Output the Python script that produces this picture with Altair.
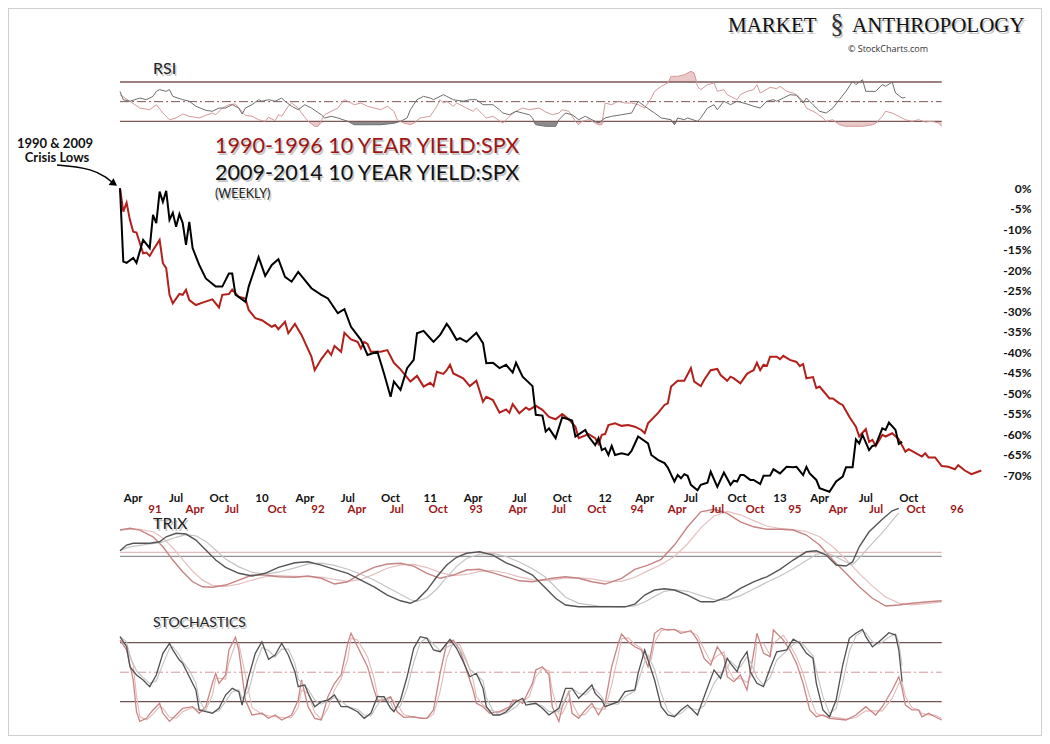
import altair as alt
import pandas as pd

# ---------------- data (week index, value) ----------------
# Main panel: % change of 10 Year Yield : SPX ratio from crisis low
BLACK_MAIN = [(0,0.0),(1,-17.9),(2,-18.2),(4,-17.0),(5,-18.2),(7,-12.6),(9,-14.6),(10,-6.5),(11,-8.5),(12,-0.8),(13,-3.3),(14,-0.6),(15,-7.7),(16,-6.0),(17,-9.4),(18,-6.3),(19,-8.5),(20,-13.8),(21,-8.2),(22,-14.6),(24,-18.7),(26,-22.0),(29,-24.0),(31,-24.0),(33,-20.8),(34,-20.8),(35,-26.0),(38,-27.7),(39,-24.0),(40,-21.6),(42,-16.8),(44,-21.4),(46,-18.7),(48,-17.3),(50,-21.6),(52,-22.8),(54,-20.4),(58,-24.4),(61,-26.0),(63,-26.9),(66,-30.5),(68,-29.5),(70,-33.8),(73,-37.0),(75,-40.7),(78,-39.9),(80,-45.2),(82,-50.9),(83,-47.2),(85,-49.2),(87,-43.9),(89,-41.9),(90,-35.4),(92,-34.8),(94,-36.6),(95,-37.5),(97,-35.8),(99,-33.1),(100,-34.2),(102,-37.0),(103,-36.6),(105,-37.5),(108,-35.3),(110,-37.8),(111,-42.7),(113,-42.6),(115,-43.9),(117,-43.1),(119,-45.0),(120,-42.6),(122,-46.0),(125,-48.3),(126,-55.3),(128,-55.5),(129,-59.4),(130,-58.6),(132,-61.0),(134,-55.9),(137,-56.7),(138,-60.6),(141,-59.0),(142,-60.6),(144,-62.7),(145,-61.0),(146,-63.9),(147,-63.5),(148,-65.1),(149,-62.9),(150,-65.1),(152,-64.7),(154,-65.1),(155,-64.1),(157,-60.6),(160,-62.3),(161,-65.1),(163,-66.3),(165,-67.1),(166,-68.2),(168,-71.6),(169,-70.0),(170,-70.8),(171,-69.8),(172,-70.2),(173,-72.4),(175,-73.7),(176,-72.4),(178,-71.9),(179,-69.2),(181,-72.9),(183,-69.4),(185,-72.4),(186,-71.4),(187,-71.6),(188,-70.0),(189,-70.0),(191,-71.2),(192,-71.2),(194,-72.2),(195,-70.2),(197,-70.1),(198,-68.6),(200,-69.6),(202,-68.0),(204,-68.1),(205,-68.0),(207,-70.0),(208,-68.0),(209,-69.6),(211,-71.2),(212,-73.2),(215,-74.1),(217,-71.6),(219,-70.4),(220,-68.1),(222,-68.1),(223,-61.3),(224,-62.3),(225,-60.2),(227,-63.9),(228,-62.9),(229,-62.7),(231,-58.6),(232,-59.0),(233,-57.2),(235,-59.0),(236,-62.4),(237,-61.9)]

RED_MAIN = [(0,0.0),(1,-5.7),(2,-3.5),(3,-7.7),(4,-10.6),(5,-10.8),(7,-15.9),(8,-15.7),(9,-16.5),(10,-15.1),(12,-12.6),(13,-18.3),(14,-19.5),(15,-26.0),(16,-28.1),(18,-25.8),(19,-26.0),(20,-24.8),(21,-27.3),(23,-28.5),(25,-27.9),(28,-27.1),(30,-29.1),(31,-26.0),(33,-25.8),(34,-24.7),(36,-26.5),(38,-26.9),(39,-29.7),(41,-31.7),(43,-32.2),(46,-33.8),(47,-33.4),(48,-34.4),(50,-32.6),(51,-35.4),(53,-33.1),(55,-35.8),(58,-41.1),(59,-44.4),(61,-41.7),(63,-39.6),(64,-40.7),(65,-38.5),(67,-39.9),(68,-35.3),(70,-36.9),(72,-37.5),(73,-39.1),(74,-37.5),(75,-38.0),(76,-39.9),(79,-39.9),(81,-39.5),(83,-42.6),(85,-44.2),(88,-47.2),(90,-45.8),(92,-48.4),(94,-47.5),(95,-48.3),(96,-44.8),(98,-45.3),(99,-44.4),(100,-43.1),(101,-45.2),(104,-46.4),(106,-48.3),(108,-47.0),(110,-52.1),(111,-50.9),(113,-51.7),(115,-54.8),(117,-54.0),(118,-54.8),(119,-52.7),(121,-54.9),(123,-53.5),(124,-54.1),(126,-53.1),(128,-54.1),(130,-55.8),(132,-56.4),(134,-55.1),(136,-56.4),(138,-58.2),(139,-61.0),(142,-60.0),(144,-61.0),(145,-62.4),(146,-60.2),(147,-60.0),(148,-57.8),(150,-57.4),(152,-58.0),(154,-57.8),(156,-58.2),(158,-59.0),(159,-59.8),(160,-57.4),(163,-54.9),(165,-52.9),(166,-52.5),(167,-48.4),(169,-47.0),(171,-47.0),(173,-43.9),(174,-47.2),(176,-48.3),(177,-46.8),(179,-44.4),(181,-44.1),(182,-45.6),(184,-47.0),(185,-46.0),(186,-46.4),(188,-47.6),(190,-45.3),(191,-44.8),(192,-44.4),(193,-42.6),(194,-44.4),(195,-43.1),(196,-43.4),(197,-41.1),(199,-41.1),(200,-41.7),(201,-40.9),(203,-41.9),(205,-42.4),(206,-43.4),(207,-42.9),(208,-46.4),(210,-46.1),(211,-48.8),(212,-48.4),(215,-51.3),(216,-51.3),(218,-52.5),(219,-52.9),(221,-55.8),(222,-57.0),(223,-58.2),(224,-60.6),(226,-58.8),(227,-61.9),(228,-61.4),(229,-62.9),(231,-60.2),(232,-60.6),(234,-59.8),(236,-61.3),(238,-64.3),(239,-63.7),(241,-64.6),(243,-65.5),(244,-64.7),(245,-65.7),(247,-65.7),(249,-67.8),(251,-68.0),(253,-68.6),(254,-67.6),(256,-68.9),(258,-69.8),(261,-68.9)]

# RSI panel
BLACK_RSI = [(0,60.5),(1,52.0),(3,50.4),(6,53.7),(8,52.0),(10,55.4),(11,60.5),(12,62.2),(14,60.5),(15,62.2),(16,55.4),(19,52.0),(21,50.4),(23,45.3),(26,41.2),(28,40.2),(30,43.5),(32,43.5),(34,46.9),(36,43.5),(37,37.4),(38,43.5),(40,46.9),(42,52.0),(43,50.4),(45,52.0),(47,50.4),(49,53.7),(50,50.4),(52,45.3),(54,41.8),(56,46.9),(58,43.5),(61,36.7),(62,33.4),(64,35.1),(66,33.4),(69,30.0),(71,26.5),(75,26.5),(79,26.5),(83,28.0),(85,30.0),(87,33.4),(88,41.8),(90,52.0),(92,55.4),(94,53.7),(95,52.0),(98,57.1),(99,55.4),(101,52.0),(104,50.4),(106,52.0),(108,52.0),(110,46.9),(113,46.9),(115,41.8),(116,38.4),(118,36.7),(120,40.2),(122,38.4),(124,36.7),(125,33.4),(126,26.5),(129,24.9),(132,24.9),(133,31.6),(135,38.4),(137,36.7),(139,31.6),(141,35.1),(143,31.6),(145,28.3),(147,33.4),(149,35.1),(152,36.7),(155,38.4),(157,50.4),(159,45.3),(162,38.4),(164,33.4),(167,31.6),(168,26.5),(169,33.4),(171,31.6),(172,33.4),(175,30.0),(176,33.4),(178,43.5),(180,46.9),(181,41.8),(183,50.4),(185,46.9),(187,50.4),(190,47.6),(192,45.3),(194,43.5),(196,50.4),(198,52.0),(199,50.4),(201,53.7),(203,57.1),(205,56.5),(207,48.6),(208,53.7),(210,46.9),(212,40.2),(214,38.4),(216,43.5),(218,52.0),(220,60.5),(222,70.7),(223,67.3),(225,72.3),(226,60.5),(229,60.5),(231,67.3),(232,65.6),(234,70.0),(235,58.8),(237,53.7),(238,54.4)]

RED_RSI = [(0,57.1),(3,50.4),(6,43.5),(9,41.8),(11,46.9),(13,38.4),(15,31.6),(17,33.4),(19,37.4),(21,35.1),(24,33.4),(26,36.1),(28,38.4),(29,36.7),(31,43.5),(33,46.9),(35,47.6),(36,43.5),(38,36.1),(40,35.1),(42,31.6),(44,30.0),(45,34.1),(47,30.6),(48,36.7),(49,35.1),(51,45.3),(52,48.6),(54,43.5),(55,38.4),(57,30.0),(59,24.9),(60,24.9),(62,36.7),(64,40.2),(66,43.5),(68,52.0),(69,50.4),(71,46.9),(73,48.6),(75,45.3),(77,43.5),(79,41.8),(81,45.3),(83,40.2),(84,31.6),(86,28.3),(88,26.5),(89,28.0),(91,33.4),(94,35.1),(96,45.3),(97,52.0),(98,48.6),(99,50.4),(101,45.3),(102,48.6),(105,43.5),(107,40.2),(108,43.5),(110,36.7),(111,33.4),(113,35.1),(116,28.3),(118,35.1),(120,40.2),(122,43.5),(124,41.8),(127,43.5),(129,39.5),(131,36.7),(133,38.4),(134,41.8),(136,40.2),(138,30.0),(139,26.5),(140,30.0),(142,31.6),(143,30.0),(145,26.5),(146,26.5),(147,48.6),(149,46.9),(151,50.4),(153,48.6),(155,48.6),(157,46.9),(159,43.5),(161,53.7),(162,60.5),(164,65.6),(166,69.0),(167,75.8),(169,75.8),(171,77.4),(173,80.9),(174,79.2),(175,65.6),(176,62.2),(178,67.3),(180,69.0),(181,60.5),(183,62.2),(184,57.1),(186,53.7),(187,52.0),(188,57.1),(190,60.5),(192,62.2),(193,67.3),(194,58.8),(195,60.5),(197,64.6),(199,63.2),(200,65.6),(202,60.5),(204,58.8),(205,57.1),(207,50.4),(208,43.5),(210,40.2),(211,38.4),(213,33.4),(214,30.0),(216,31.6),(218,26.5),(220,24.9),(223,24.9),(225,24.9),(228,26.5),(229,28.0),(231,35.1),(232,40.2),(234,38.4),(236,35.1),(238,31.6),(240,30.0),(242,31.6),(244,29.3),(246,30.0),(248,28.3),(249,24.9)]

# TRIX panel
BLACK_TRIX = [(0,2.2),(2,4.5),(4,5.2),(9,5.2),(12,5.8),(14,7.8),(17,9.2),(20,8.9),(23,6.5),(26,2.5),(29,-1.5),(32,-4.4),(36,-6.8),(40,-7.9),(44,-6.8),(48,-4.4),(53,-2.6),(57,-2.2),(61,-3.5),(65,-5.2),(69,-6.8),(73,-9.5),(77,-12.2),(81,-15.5),(85,-17.8),(88,-18.8),(90,-17.5),(93,-13.5),(96,-8.2),(99,-3.5),(102,-0.4),(105,1.2),(109,1.8),(113,0.5),(117,-2.6),(121,-4.8),(125,-7.5),(129,-12.8),(132,-16.8),(135,-19.5),(139,-20.2),(145,-20.2),(153,-20.2),(156,-19.1),(159,-15.5),(162,-13.5),(165,-13.0),(168,-13.5),(172,-15.5),(176,-18.2),(180,-18.2),(184,-16.2),(188,-12.8),(192,-10.2),(196,-8.2),(200,-5.2),(204,-1.5),(208,1.8),(211,2.2),(214,0.5),(217,-3.5),(220,-3.9),(222,-2.2),(224,3.8),(227,9.8),(231,14.8),(234,18.2),(236,19.2)]

RED_TRIX = [(0,10.5),(3,11.2),(6,10.5),(10,7.8),(13,3.8),(16,-1.5),(19,-6.2),(22,-10.2),(25,-12.2),(28,-12.4),(32,-11.5),(36,-9.5),(40,-7.5),(44,-7.5),(48,-8.2),(53,-8.4),(57,-7.9),(61,-8.8),(65,-11.1),(69,-10.2),(73,-6.8),(77,-4.4),(81,-3.1),(85,-2.8),(89,-3.9),(93,-6.8),(97,-8.8),(101,-7.5),(105,-5.5),(109,-5.2),(113,-6.6),(117,-8.2),(121,-9.8),(125,-10.2),(129,-9.2),(131,-8.8),(135,-8.2),(139,-8.8),(143,-10.2),(147,-11.1),(152,-8.8),(156,-5.2),(160,-3.5),(164,-1.2),(168,4.5),(172,11.8),(176,17.8),(180,18.8),(184,17.2),(188,13.8),(192,11.8),(196,10.8),(200,10.8),(204,10.5),(208,8.5),(212,4.5),(216,-1.5),(220,-6.8),(224,-12.2),(228,-16.8),(232,-19.9),(236,-19.5),(240,-18.8),(245,-18.2),(249,-17.8)]

# Stochastics panel
BLACK_STO = [(0,86.1),(2,75.9),(3,55.6),(5,47.2),(7,42.1),(9,35.3),(11,47.2),(13,69.2),(15,79.4),(16,72.6),(18,62.4),(19,59.0),(21,45.4),(23,31.9),(24,11.6),(26,9.8),(28,8.2),(30,13.3),(32,26.8),(34,33.6),(36,30.2),(37,16.6),(39,45.4),(41,69.2),(43,81.0),(45,63.1),(47,67.5),(49,79.4),(51,67.5),(53,50.5),(54,35.3),(56,37.0),(57,28.5),(59,14.9),(61,20.0),(63,21.7),(65,26.8),(67,14.9),(69,14.9),(72,9.8),(74,3.1),(76,8.2),(78,25.1),(80,25.1),(82,13.3),(83,9.8),(85,21.7),(87,45.4),(89,74.3),(91,86.1),(93,84.5),(95,72.6),(97,70.8),(100,83.5),(102,74.3),(104,60.7),(106,45.4),(108,48.9),(110,33.6),(111,14.9),(113,6.5),(115,6.5),(117,9.8),(120,20.0),(122,23.5),(123,16.6),(126,18.4),(128,13.3),(130,6.5),(133,13.3),(135,33.6),(137,33.6),(139,23.5),(141,30.2),(143,37.0),(144,28.5),(146,21.7),(147,14.9),(151,20.0),(153,30.2),(156,31.9),(157,48.9),(159,72.6),(160,62.4),(162,42.1),(164,14.9),(166,6.5),(168,4.7),(170,11.6),(172,16.6),(175,6.5),(177,25.1),(180,52.2),(182,43.8),(184,64.1),(185,59.0),(187,50.5),(188,60.7),(190,70.8),(191,50.5),(193,38.7),(195,35.3),(197,54.0),(199,70.8),(202,72.6),(204,83.5),(206,79.4),(208,69.2),(210,64.1),(211,38.7),(213,11.6),(215,4.7),(217,21.7),(219,57.3),(221,84.5),(223,89.6),(225,93.6),(226,86.1),(228,75.9),(230,81.0),(233,90.2),(235,87.8),(236,72.6),(237,40.3)]

RED_STO = [(0,82.7),(2,72.6),(4,42.1),(5,9.8),(6,0.0),(8,3.1),(10,11.6),(12,18.4),(13,8.2),(15,0.0),(17,6.5),(19,13.3),(22,14.9),(24,8.2),(26,14.9),(28,38.7),(29,48.9),(30,38.7),(32,47.2),(33,72.6),(35,85.5),(36,72.6),(38,21.7),(40,6.5),(43,8.2),(45,3.1),(47,6.5),(49,1.4),(52,6.5),(54,21.7),(55,42.1),(57,14.9),(59,3.1),(61,1.4),(63,25.1),(65,38.7),(67,47.2),(69,79.4),(70,89.6),(72,75.9),(75,55.6),(77,31.9),(78,21.7),(80,21.7),(82,25.1),(84,9.8),(86,4.1),(89,4.7),(91,3.1),(93,3.1),(95,11.6),(97,48.9),(99,79.4),(101,82.7),(103,72.6),(105,52.2),(107,31.9),(108,18.4),(110,14.9),(112,8.2),(115,10.0),(118,14.9),(119,21.7),(120,21.7),(122,18.4),(124,31.9),(125,38.7),(126,52.2),(128,55.6),(130,47.2),(131,14.9),(133,0.0),(134,14.9),(136,30.2),(137,8.2),(139,3.1),(141,11.6),(143,18.4),(145,6.5),(147,18.4),(149,55.6),(151,79.4),(152,88.8),(154,81.0),(156,75.9),(158,72.6),(160,55.6),(161,70.8),(162,89.6),(164,94.6),(166,92.9),(168,93.6),(170,89.6),(173,92.2),(175,82.7),(177,64.1),(179,57.3),(181,75.9),(183,65.8),(184,45.4),(186,40.3),(188,47.2),(190,31.9),(192,69.2),(193,89.6),(195,69.2),(197,65.8),(198,92.9),(201,82.7),(203,72.6),(205,59.0),(207,38.7),(209,11.6),(211,4.7),(213,6.5),(215,3.1),(220,1.4),(223,6.5),(226,14.9),(229,6.5),(231,14.9),(234,31.9),(236,45.4),(237,33.6),(238,16.6),(240,11.6),(242,11.6),(243,4.7),(245,8.2),(247,4.7),(249,1.4)]

# Indicator reference levels and span (weeks)
PANEL_SPAN = (0, 249)
RSI_LEVELS = [70, 30]
RSI_MID = [50]
TRIX_ZERO_BLACK = [0.0]
TRIX_ZERO_RED = [1.6]
STO_LEVELS = [80, 20]
STO_MID = [50]

# Tick labels (week position, label)
BLACK_TICKS = [(4,'Apr'),(17,'Jul'),(30,'Oct'),(43,'10'),(56,'Apr'),(69,'Jul'),(82,'Oct'),(94,'11'),(107,'Apr'),(121,'Jul'),(134,'Oct'),(147,'12'),(159,'Apr'),(173,'Jul'),(187,'Oct'),(200,'13'),(212,'Apr'),(226,'Jul'),(239,'Oct')]
RED_TICKS = [(10.6,'91'),(22.7,'Apr'),(33.9,'Jul'),(47.6,'Oct'),(60,'92'),(71.8,'Apr'),(83.9,'Jul'),(96.4,'Oct'),(107.9,'93'),(120.6,'Apr'),(133,'Jul'),(144.5,'Oct'),(156.7,'94'),(168.8,'Apr'),(180.9,'Jul'),(192.4,'Oct'),(204.5,'95'),(217.6,'Apr'),(229.1,'Jul'),(241.2,'Oct'),(253.6,'96')]
PCT_TICKS = list(range(0, -75, -5))

# annotation arrow path (week, %) pointing at the crisis low
ARROW = [(-19.1, 5.7), (-9.1, 4.5), (-4.5, 2.8), (-2.1, 1.3)]

# ---------------- scales ----------------
XDOM = [-33.94, 279.39]
MAIN_DOM = [-133.72, 44.02]
RSI_DOM = [-595.65, 145.32]
TRIX_DOM = [-71.88, 219.32]
STO_DOM = [-14.88, 725.48]

RED = '#b3201b'
RED_TXT = '#9e1515'


def xenc(field='w'):
    return alt.X(f'{field}:Q', scale=alt.Scale(domain=XDOM, nice=False, zero=False), axis=None)


def yenc(field, dom, axis=None):
    return alt.Y(f'{field}:Q', scale=alt.Scale(domain=dom, nice=False, zero=False), axis=axis)


def frame(pairs):
    return pd.DataFrame(pairs, columns=['w', 'v'])


def series(pairs, dom, color, width, opacity=1.0):
    return alt.Chart(frame(pairs)).mark_line(color=color, strokeWidth=width, opacity=opacity).encode(
        x=xenc(), y=yenc('v', dom), order='w:Q')


def signal(pairs, dom, color, width, frame_back):
    return alt.Chart(frame(pairs)).transform_window(
        sig='mean(v)', frame=[-frame_back, 0], sort=[alt.SortField('w')]
    ).mark_line(color=color, strokeWidth=width).encode(x=xenc(), y=yenc('sig', dom), order='w:Q')


def levels(vals, dom, color, width, dash=None):
    d = pd.DataFrame({'v': vals, 'w0': PANEL_SPAN[0], 'w1': PANEL_SPAN[1]})
    kw = dict(color=color, strokeWidth=width)
    if dash:
        kw['strokeDash'] = dash
    return alt.Chart(d).mark_rule(**kw).encode(x=xenc('w0'), x2='w1:Q', y=yenc('v', dom))


def fill(pairs, dom, color, side, level):
    d = frame(pairs)
    d['b'] = level
    d['f'] = d['v'].clip(lower=level) if side == 'above' else d['v'].clip(upper=level)
    return alt.Chart(d).mark_area(color=color, opacity=1.0).encode(x=xenc(), y=yenc('f', dom), y2='b:Q')


def label(txt, x, y, size, color='#111', font='Lato', weight='normal', align='left', shadow=False):
    out = []
    d = pd.DataFrame({'t': [txt]})
    if shadow:
        out.append(alt.Chart(d).mark_text(align=align, baseline='alphabetic', font=font, fontSize=size,
                                          fontWeight=weight, color='#b8b8b8', dx=1.5, dy=2, opacity=0.8)
                   .encode(text='t:N', x=alt.value(x), y=alt.value(y)))
    out.append(alt.Chart(d).mark_text(align=align, baseline='alphabetic', font=font, fontSize=size,
                                      fontWeight=weight, color=color)
               .encode(text='t:N', x=alt.value(x), y=alt.value(y)))
    return out


layers = []

# ---- RSI panel ----
layers.append(fill(RED_RSI, RSI_DOM, '#e9c9c9', 'above', 70))
layers.append(fill(RED_RSI, RSI_DOM, '#e9c9c9', 'below', 30))
layers.append(fill(BLACK_RSI, RSI_DOM, '#8c8c8c', 'below', 30))
layers.append(levels(RSI_LEVELS, RSI_DOM, '#7d5656', 1.3))
layers.append(levels(RSI_MID, RSI_DOM, '#7d5656', 1, [9, 3, 2, 3]))
layers.append(series(RED_RSI, RSI_DOM, '#d49a9a', 1))
layers.append(series(BLACK_RSI, RSI_DOM, '#6e6e6e', 1))

# ---- main panel ----
pct_axis = alt.Axis(orient='right', values=PCT_TICKS, labelExpr="datum.value + '%'", domain=False,
                    ticks=False, tickSize=0, grid=False, labelAlign='right', labelPadding=0, offset=-11,
                    labelFont='Lato', labelFontWeight='bold', labelFontSize=12, labelColor='#111',
                    labelBaseline='middle', labelFlush=False, labelOverlap=False, title=None)
layers.append(alt.Chart(frame(RED_MAIN)).mark_line(color=RED, strokeWidth=2).encode(
    x=xenc(), y=yenc('v', MAIN_DOM, pct_axis), order='w:Q'))
layers.append(series(BLACK_MAIN, MAIN_DOM, '#000000', 2))
layers.append(alt.Chart(frame(ARROW)).mark_line(color='#000', strokeWidth=1.5, interpolate='monotone')
              .encode(x=xenc(), y=yenc('v', MAIN_DOM), order='w:Q'))
layers.append(alt.Chart(frame(ARROW[-1:])).mark_point(shape='triangle', size=70, angle=125, filled=True,
                                                      color='#000', opacity=1)
              .encode(x=xenc(), y=yenc('v', MAIN_DOM)))

# ---- TRIX panel ----
layers.append(levels(TRIX_ZERO_RED, TRIX_DOM, '#dcaaaa', 1))
layers.append(levels(TRIX_ZERO_BLACK, TRIX_DOM, '#777777', 1))
layers.append(signal(RED_TRIX, TRIX_DOM, '#e6c0c0', 1.2, 2))
layers.append(series(RED_TRIX, TRIX_DOM, '#c78383', 1.4))
layers.append(signal(BLACK_TRIX, TRIX_DOM, '#c4c4c4', 1.2, 2))
layers.append(series(BLACK_TRIX, TRIX_DOM, '#555555', 1.4))

# ---- Stochastics panel ----
layers.append(levels(STO_LEVELS, STO_DOM, '#6f5353', 1.2))
layers.append(levels(STO_MID, STO_DOM, '#cf9a9a', 1, [9, 3, 2, 3]))
layers.append(signal(RED_STO, STO_DOM, '#e3b9b9', 1.1, 1))
layers.append(series(RED_STO, STO_DOM, '#c98585', 1.3))
layers.append(signal(BLACK_STO, STO_DOM, '#c2c2c2', 1.1, 1))
layers.append(series(BLACK_STO, STO_DOM, '#505050', 1.3))

# ---- tick label rows ----
bt = pd.DataFrame(BLACK_TICKS, columns=['w', 't'])
rt = pd.DataFrame(RED_TICKS, columns=['w', 't'])
layers.append(alt.Chart(bt).mark_text(font='Lato', fontWeight='bold', fontSize=11.5, color='#111',
                                      baseline='middle', align='center')
              .encode(x=xenc(), y=alt.value(491), text='t:N'))
layers.append(alt.Chart(rt).mark_text(font='Lato', fontWeight='bold', fontSize=11.5, color=RED_TXT,
                                      baseline='middle', align='center')
              .encode(x=xenc(), y=alt.value(502), text='t:N'))

# ---- texts ----
layers += label('MARKET', 720, 24, 21, '#111', 'Liberation Serif', 'normal', 'left', True)
layers += label('§', 829, 25, 27, '#333', 'Liberation Serif', 'normal', 'center', True)
layers += label('ANTHROPOLOGY', 844, 24, 21, '#111', 'Liberation Serif', 'normal', 'left', True)
layers += label('© StockCharts.com', 880, 44, 9, '#333', 'Open Sans', 'normal', 'center')
layers += label('RSI', 145, 66, 16, '#222', 'Lato', 'normal', 'left', True)
layers += label('1990-1996 10 YEAR YIELD:SPX', 207, 145, 21.5, RED_TXT, 'Lato', 'normal', 'left', True)
layers += label('2009-2014 10 YEAR YIELD:SPX', 207, 172, 21.5, '#111', 'Lato', 'normal', 'left', True)
layers += label('(WEEKLY)', 207, 190, 12.5, '#222', 'Lato', 'normal', 'left', True)
layers += label('1990 & 2009', 47, 140, 13, '#111', 'Lato', 'bold', 'center')
layers += label('Crisis Lows', 49, 154, 13, '#111', 'Lato', 'bold', 'center')
layers += label('TRIX', 145, 521, 16, '#222', 'Lato', 'normal', 'left', True)
layers += label('STOCHASTICS', 145, 619, 14, '#222', 'Lato', 'normal', 'left', True)

chart = alt.layer(*layers).resolve_scale(y='independent').properties(
    width=1034, height=728, padding=0, background='white',
    autosize=alt.AutoSizeParams(type='none')
).configure_view(stroke='#cfcfcf', strokeWidth=2)

chart.save('out.html', embed_options={'renderer': 'svg', 'actions': False})
